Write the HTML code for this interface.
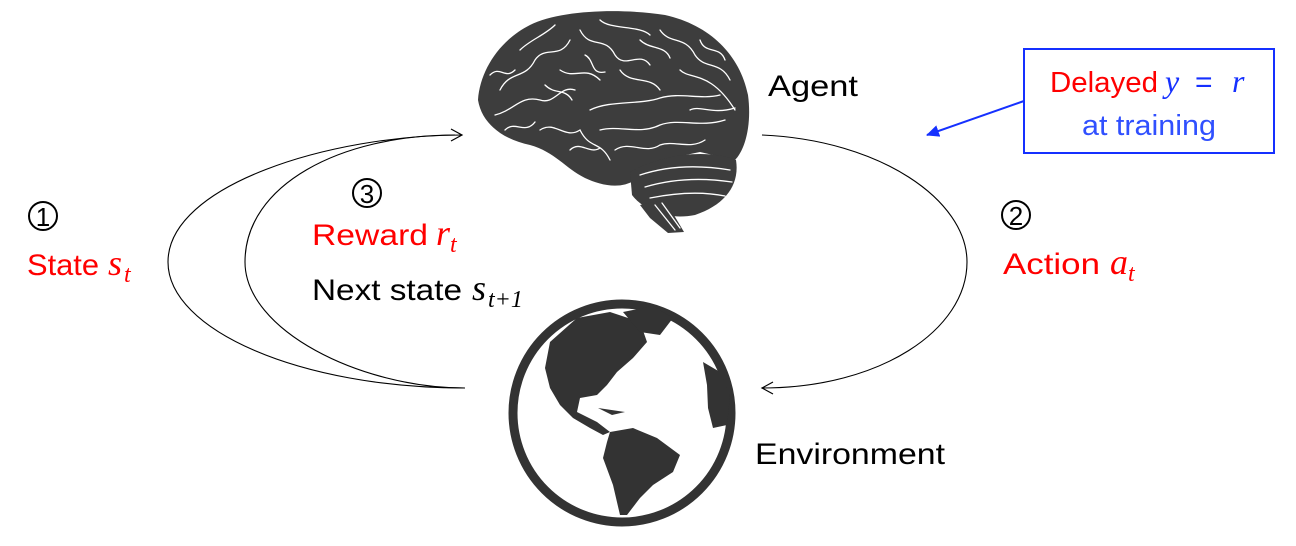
<!DOCTYPE html>
<html><head><meta charset="utf-8"><style>
html,body{margin:0;padding:0;background:#fff;}
svg{display:block;}
text{font-family:"Liberation Sans",sans-serif;}
.m{font-family:"Liberation Serif",serif;font-style:italic;}
</style></head><body>
<svg width="1296" height="546" viewBox="0 0 1296 546" xmlns="http://www.w3.org/2000/svg">
<defs>
<marker id="oa" markerWidth="14" markerHeight="14" refX="12" refY="7" orient="auto" markerUnits="userSpaceOnUse">
<path d="M1,1 L12,7 L1,13" fill="none" stroke="#000" stroke-width="1.2"/></marker>
<marker id="ba" markerWidth="14" markerHeight="12" refX="12" refY="6" orient="auto" markerUnits="userSpaceOnUse">
<path d="M0,0 L13,6 L0,12 Z" fill="#1530ff"/></marker>
</defs>

<!-- Brain -->
<g fill="#3d3d3d">
<path d="M478,100 C480,70 500,40 530,25 C560,10 620,8 665,15 C710,25 740,55 748,95 C752,125 745,150 735,160 L700,152 C670,158 648,165 635,180 C620,190 600,185 585,178 C565,168 555,152 530,145 C505,140 482,125 478,100 Z"/>
<path d="M630,172 C660,155 705,148 736,160 C740,185 725,205 695,215 C670,220 645,212 632,195 Z"/>
<path d="M640,205 L665,200 L684,232 L668,233 L650,218 Z"/>
</g>
<g fill="none" stroke="#fff" stroke-width="1.3" stroke-linecap="round">
<path d="M500,90 C510,70 525,80 535,60 C545,45 560,60 570,40"/>
<path d="M495,115 C515,110 520,95 540,100 C555,105 560,85 575,90"/>
<path d="M580,30 C590,50 605,35 615,55 C625,70 640,50 650,65"/>
<path d="M660,30 C670,45 685,35 695,55 C705,70 720,60 730,80"/>
<path d="M590,110 C610,100 640,105 660,98 C680,92 700,100 720,95"/>
<path d="M600,130 C620,125 640,135 660,125 C680,118 700,128 725,120"/>
<path d="M540,130 C555,120 565,140 580,130 C590,150 600,140 610,160"/>
<path d="M620,70 C630,85 650,75 660,90 M680,70 C690,80 710,70 735,110"/>
<path d="M520,50 C530,40 545,35 555,25 M600,20 C610,30 640,25 650,35"/>
<path d="M560,70 C575,80 585,65 600,80"/>
<path d="M490,75 C500,65 505,80 515,70 M505,130 C515,120 525,135 535,122"/>
<path d="M585,55 C595,60 590,75 605,72 M700,40 C705,55 720,45 725,60"/>
<path d="M615,150 C630,140 645,155 660,145 C675,140 690,150 705,140"/>
<path d="M545,85 C555,95 565,88 572,100 M640,40 C650,50 665,45 670,58"/>
<path d="M690,110 C700,105 712,115 735,108 M570,150 C580,140 590,155 600,148"/>
<path d="M640,175 C670,165 700,165 730,170 M645,187 C675,178 705,178 732,182 M650,198 C680,192 705,192 725,196"/>
<path d="M655,205 L675,230 M662,203 L680,228"/>
</g>

<!-- Globe -->
<circle cx="622" cy="413" r="109" fill="#fff" stroke="#333" stroke-width="9"/>
<g fill="#333">
<path d="M550,342 L577,318 L610,312 L640,322 L647,342 L633,358 L617,372 L607,385 L597,395 L580,398 L577,412 L597,422 L610,432 L603,435 L590,428 L573,418 L560,405 L550,388 L545,368 Z"/>
<path d="M623,312 L653,306 L673,318 L660,335 L640,332 Z"/>
<path d="M610,432 L633,428 L657,438 L680,455 L673,472 L653,485 L640,498 L627,515 L620,515 L613,485 L603,458 L607,442 Z"/>
<path d="M703,362 L720,372 L730,395 L727,425 L713,428 L708,408 L707,385 Z"/>
<path d="M598,408 L625,412 L612,415 Z"/>
</g>

<!-- Connectors -->
<path d="M465,388 C300,388 168,330 168,262 C168,185 330,135 462,135" fill="none" stroke="#000" stroke-width="1.1" marker-end="url(#oa)"/>
<path d="M465,388 C360,388 245,330 245,262 C245,185 340,135 455,135" fill="none" stroke="#000" stroke-width="1.1"/>
<path d="M762,135 C880,140 967,200 967,262 C967,330 880,388 762,388" fill="none" stroke="#000" stroke-width="1.1" marker-end="url(#oa)"/>

<!-- Circled numbers -->
<g fill="none" stroke="#000" stroke-width="2">
<circle cx="43" cy="216" r="14"/>
<circle cx="367" cy="193" r="14"/>
<circle cx="1016" cy="215" r="14"/>
</g>
<text x="43" y="226" font-size="26" text-anchor="middle" fill="#000">1</text>
<text x="367" y="203" font-size="26" text-anchor="middle" fill="#000">3</text>
<text x="1016" y="225" font-size="26" text-anchor="middle" fill="#000">2</text>

<!-- Labels -->
<text x="27" y="275" font-size="30" fill="#ff0000" textLength="72" lengthAdjust="spacingAndGlyphs">State</text>
<text x="108" y="275" class="m" font-size="36" fill="#ff0000">s</text><text x="124" y="282" class="m" font-size="24" fill="#ff0000">t</text>

<text x="312" y="245" font-size="30" fill="#ff0000" textLength="116" lengthAdjust="spacingAndGlyphs">Reward</text>
<text x="436" y="245" class="m" font-size="36" fill="#ff0000">r</text><text x="450" y="252" class="m" font-size="24" fill="#ff0000">t</text>

<text x="312" y="300" font-size="30" fill="#000" textLength="150" lengthAdjust="spacingAndGlyphs">Next state</text>
<text x="472" y="300" class="m" font-size="36" fill="#000">s</text><text x="488" y="307" class="m" font-size="24" fill="#000">t+1</text>

<text x="768" y="96" font-size="30" fill="#000" textLength="90" lengthAdjust="spacingAndGlyphs">Agent</text>

<text x="1003" y="274" font-size="30" fill="#ff0000" textLength="97" lengthAdjust="spacingAndGlyphs">Action</text>
<text x="1110" y="274" class="m" font-size="36" fill="#ff0000">a</text><text x="1128" y="281" class="m" font-size="24" fill="#ff0000">t</text>

<text x="755" y="464" font-size="30" fill="#000" textLength="190" lengthAdjust="spacingAndGlyphs">Environment</text>

<!-- Box -->
<rect x="1024" y="49" width="250" height="104" fill="#fff" stroke="#1530ff" stroke-width="2"/>
<text x="1050" y="92" font-size="29" fill="#ff0000" textLength="108" lengthAdjust="spacingAndGlyphs">Delayed</text>
<text x="1165" y="92" class="m" font-size="32" fill="#1530ff">y</text>
<text x="1195" y="92" font-size="30" fill="#1530ff">=</text>
<text x="1232" y="92" class="m" font-size="32" fill="#1530ff">r</text>
<text x="1082" y="135" font-size="29" fill="#3050ff" textLength="134" lengthAdjust="spacingAndGlyphs">at training</text>
<line x1="1024" y1="101" x2="927" y2="135" stroke="#1530ff" stroke-width="2" marker-end="url(#ba)"/>
</svg>
</body></html>
